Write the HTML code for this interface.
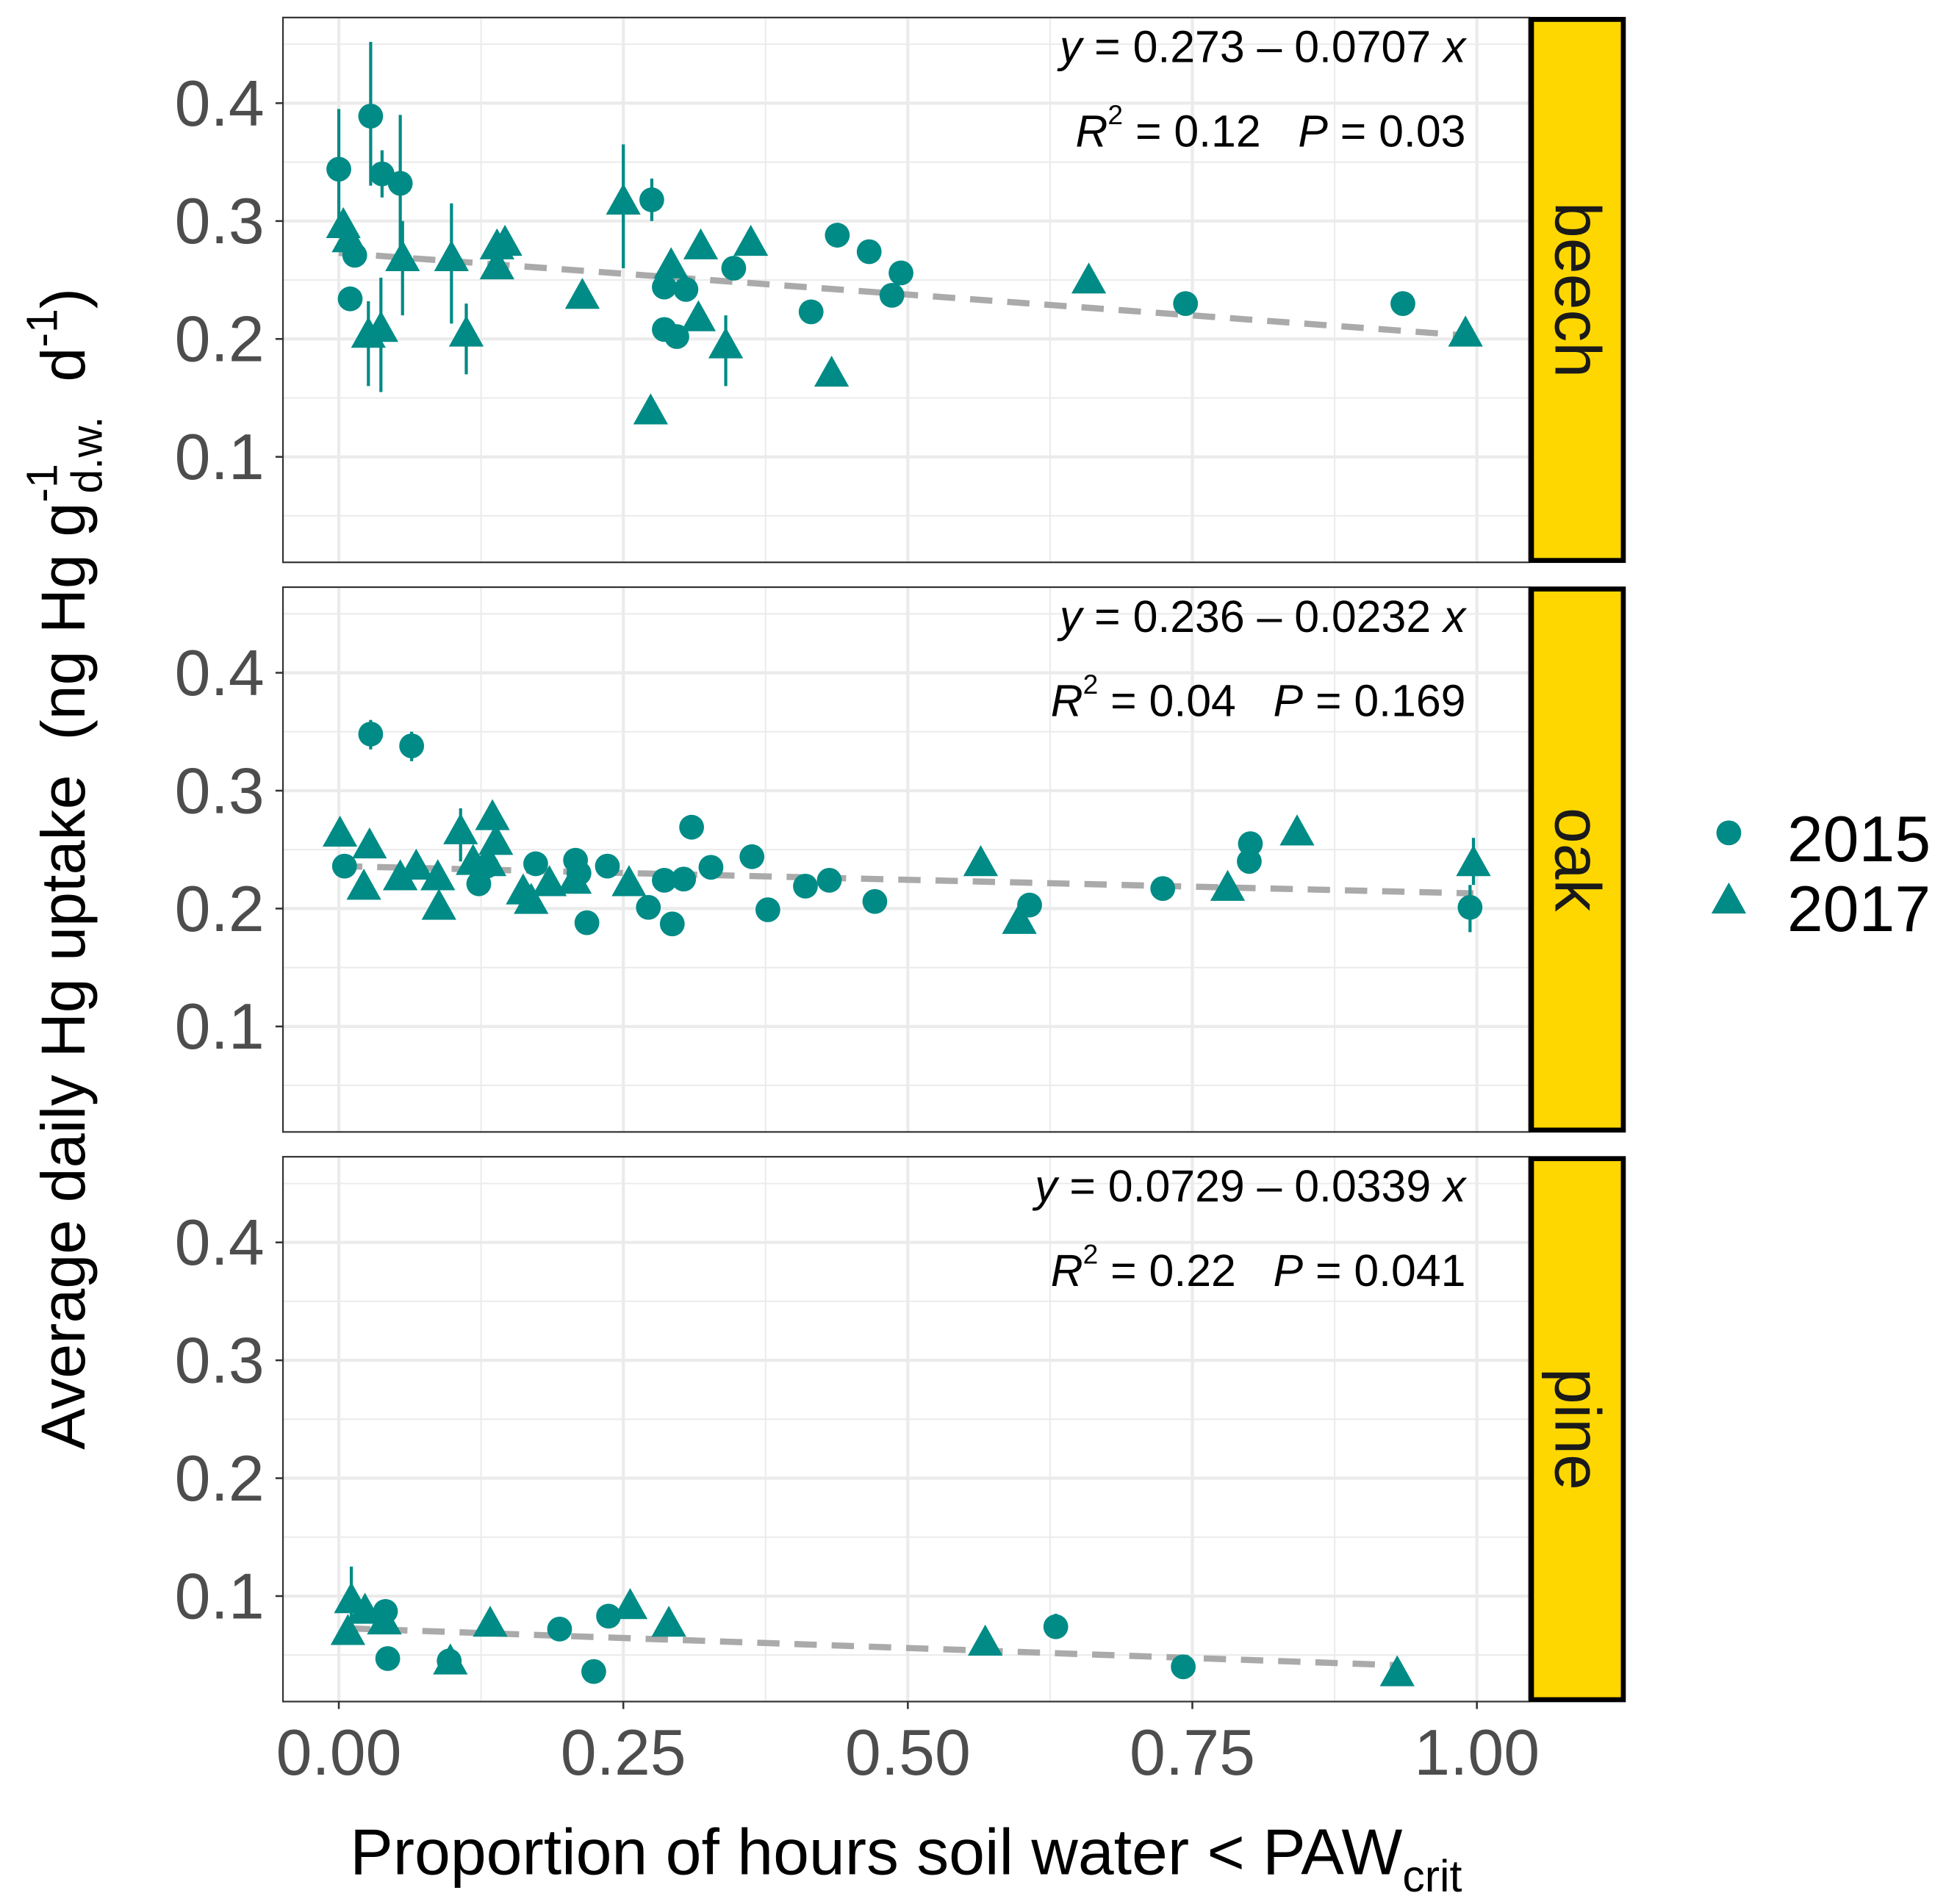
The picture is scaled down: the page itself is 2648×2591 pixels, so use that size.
<!DOCTYPE html>
<html><head><meta charset="utf-8"><style>
html,body{margin:0;padding:0;background:#fff}
svg{display:block}
text{font-family:"Liberation Sans",sans-serif}
</style></head><body>
<svg id="chart" width="2648" height="2591" viewBox="0 0 1568 1534" xmlns="http://www.w3.org/2000/svg"></svg>
<script>
const panelNames = ["beech","oak","pine"];
const eqLine1 = ["0.273 \u2013 0.0707","0.236 \u2013 0.0232","0.0729 \u2013 0.0339"];
const r2Vals = ["0.12","0.04","0.22"];
const pVals = ["0.03","0.169","0.041"];
const intercepts = [0.273,0.236,0.0729];
const slopes = [-0.0707,-0.0232,-0.0339];
const xTicks = [0,0.25,0.5,0.75,1];
const xTickLabels = ["0.00","0.25","0.50","0.75","1.00"];
const yTicks = [0.1,0.2,0.3,0.4];
const yTickLabels = ["0.1","0.2","0.3","0.4"];
// [x, y, errLow, errHigh]
const beech2015 = [[0,0.344,0.295,0.395],[0.028,0.389,0.33,0.452],[0.038,0.34,0.32,0.36],[0.054,0.332,0.26,0.39],[0.01,0.234],[0.014,0.271],[0.275,0.318,0.3,0.336],[0.286,0.244],[0.305,0.242],[0.286,0.208],[0.297,0.202],[0.347,0.26],[0.415,0.223],[0.438,0.288],[0.466,0.274],[0.494,0.256],[0.486,0.237],[0.744,0.23],[0.935,0.23]];
const beech2017 = [[0.004,0.295],[0.009,0.283],[0.026,0.202,0.16,0.232],[0.037,0.207,0.155,0.252],[0.056,0.267,0.22,0.3],[0.099,0.267,0.213,0.315],[0.112,0.203,0.17,0.23],[0.139,0.277],[0.146,0.28],[0.139,0.26],[0.214,0.235],[0.25,0.315,0.26,0.365],[0.274,0.137],[0.292,0.261],[0.318,0.277],[0.316,0.216],[0.34,0.193,0.16,0.22],[0.362,0.28],[0.433,0.169],[0.659,0.248],[0.99,0.203]];
const oak2015 = [[0.028,0.348,0.335,0.36],[0.064,0.338,0.325,0.35],[0.005,0.236],[0.123,0.221],[0.13,0.236],[0.173,0.238],[0.208,0.241],[0.211,0.23],[0.218,0.188],[0.236,0.236],[0.272,0.201],[0.286,0.224],[0.293,0.187],[0.303,0.225],[0.31,0.269],[0.327,0.235],[0.363,0.244],[0.377,0.199],[0.41,0.219],[0.431,0.224],[0.471,0.206],[0.607,0.203],[0.724,0.217],[0.8,0.24],[0.801,0.255],[0.994,0.201,0.18,0.22]];
const oak2017 = [[0.001,0.262],[0.027,0.252],[0.022,0.217],[0.054,0.225],[0.068,0.234],[0.087,0.225],[0.088,0.2],[0.107,0.264,0.24,0.285],[0.118,0.238],[0.135,0.276],[0.138,0.255],[0.132,0.237],[0.162,0.213],[0.169,0.205],[0.185,0.22],[0.207,0.222],[0.255,0.22],[0.564,0.237],[0.598,0.188],[0.781,0.216],[0.842,0.263],[0.997,0.237,0.22,0.26]];
const pine2015 = [[0.041,0.087],[0.043,0.047],[0.097,0.045],[0.194,0.072],[0.224,0.036],[0.237,0.083],[0.63,0.074,0.065,0.085],[0.742,0.04]];
const pine2017 = [[0.011,0.095,0.075,0.125],[0.008,0.068],[0.023,0.086],[0.04,0.077],[0.098,0.043],[0.133,0.075],[0.256,0.09],[0.29,0.075],[0.568,0.059],[0.93,0.033]];
const circleSets = [beech2015, oak2015, pine2015];
const triSets = [beech2017, oak2017, pine2017];

const NS = "http://www.w3.org/2000/svg";
const svg = document.getElementById("chart");
const TEAL = "#008B86";
function mk(tag, attrs, parent){const e=document.createElementNS(NS,tag);for(const k in attrs)e.setAttribute(k,attrs[k]);(parent||svg).appendChild(e);return e;}
const PL=228, PR=1232, PH=439;
const panelTops=[14,473,932];
function xs(v){return 273+917*v;}
function ysFor(p){const top=panelTops[p];return v=>top+69+(0.4-v)*950;}

for(let p=0;p<3;p++){
  const top=panelTops[p], ys=ysFor(p);
  const g=mk("g",{});
  
  
  mk("rect",{x:PL,y:top,width:PR-PL,height:PH,fill:"#fff"},g);
  [0.05,0.15,0.25,0.35,0.45].forEach(v=>mk("line",{x1:PL,x2:PR,y1:ys(v),y2:ys(v),stroke:"#ebebeb","stroke-width":1.2},g));
  [0.125,0.375,0.625,0.875].forEach(v=>mk("line",{x1:xs(v),x2:xs(v),y1:top,y2:top+PH,stroke:"#ebebeb","stroke-width":1.2},g));
  yTicks.forEach(v=>mk("line",{x1:PL,x2:PR,y1:ys(v),y2:ys(v),stroke:"#ebebeb","stroke-width":2.5},g));
  xTicks.forEach(v=>mk("line",{x1:xs(v),x2:xs(v),y1:top,y2:top+PH,stroke:"#ebebeb","stroke-width":2.5},g));
  const d=[...circleSets[p],...triSets[p]].map(a=>a[0]);
  const x0=Math.min(...d), x1=Math.max(...d);
  const rl=mk("line",{x1:xs(x0),x2:xs(x1),y1:ys(intercepts[p]+slopes[p]*x0),y2:ys(intercepts[p]+slopes[p]*x1),stroke:"#aaaaaa","stroke-width":5,"stroke-dasharray":"18 12"},g);
  
  
  [...circleSets[p],...triSets[p]].forEach(a=>{ if(a.length>2) mk("line",{x1:xs(a[0]),x2:xs(a[0]),y1:ys(a[2]),y2:ys(a[3]),stroke:TEAL,"stroke-width":2.5},g);});
  circleSets[p].forEach(a=>{
    const c=mk("circle",{cx:xs(a[0]),cy:ys(a[1]),r:10,fill:TEAL},g);
    
    
  });
  triSets[p].forEach(a=>{
    const cx=xs(a[0]), cy=ys(a[1]);
    const t=mk("polygon",{points:`${cx},${cy-16} ${cx-14},${cy+9} ${cx+14},${cy+9}`,fill:TEAL},g);
    
    
  });
  mk("rect",{x:PL,y:top,width:PR-PL,height:PH,fill:"none",stroke:"#333","stroke-width":1.3},g);
  yTicks.forEach((v,i)=>{
    mk("line",{x1:PL-6,x2:PL,y1:ys(v),y2:ys(v),stroke:"#333","stroke-width":1.5},g);
    const t=mk("text",{x:213,y:ys(v)+18,"text-anchor":"end","font-size":52,fill:"#4d4d4d"},g);
    t.textContent=yTickLabels[i];
    
    
  });
  const s=mk("rect",{x:1234,y:top+1.5,width:74,height:PH-3,fill:"#FFD700",stroke:"#000","stroke-width":4},g);
  
  
  const st=mk("text",{x:1271,y:top+PH/2,"text-anchor":"middle","dominant-baseline":"central","font-size":52,fill:"#1a1a1a",transform:`rotate(90 1271 ${top+PH/2})`},g);
  st.textContent=panelNames[p];
  
  
  const e1=mk("text",{x:1181,y:top+36,"text-anchor":"end","font-size":36,fill:"#000"},g);
  e1.innerHTML=`<tspan font-style="italic">y</tspan> = ${eqLine1[p]} <tspan font-style="italic">x</tspan>`;
  
  
  const e2=mk("text",{x:1181,y:top+104,"text-anchor":"end","font-size":36,fill:"#000"},g);
  e2.innerHTML=`<tspan font-style="italic">R</tspan><tspan font-size="22" dy="-18">2</tspan><tspan dy="18"> = ${r2Vals[p]}&#160;&#160;&#160;</tspan><tspan font-style="italic">P</tspan> = ${pVals[p]}`;
  
  
}
const ys3=panelTops[2]+PH;
xTicks.forEach((v,i)=>{
  mk("line",{x1:xs(v),x2:xs(v),y1:ys3,y2:ys3+6,stroke:"#333","stroke-width":1.5});
  const t=mk("text",{x:xs(v),y:1430,"text-anchor":"middle","font-size":52,fill:"#4d4d4d"});
  t.textContent=xTickLabels[i];
  
  
});
const xt=mk("text",{x:730,y:1510,"text-anchor":"middle","font-size":52,fill:"#000"});
xt.innerHTML='Proportion of hours soil water &lt; PAW<tspan font-size="36" dy="14">crit</tspan>';


const yt=mk("text",{x:0,y:0,"text-anchor":"middle","font-size":50,fill:"#000",transform:"translate(68 700) rotate(-90)"});
yt.innerHTML='Average daily Hg uptake&#160; (ng Hg g<tspan font-size="35" dy="-22">-1</tspan><tspan font-size="35" dx="-24" dy="36">d.w.</tspan><tspan dy="-14">&#160; d</tspan><tspan font-size="35" dy="-22">-1</tspan><tspan dy="22">)</tspan>';


const lg=mk("g",{});


mk("circle",{cx:1393,cy:671,r:10,fill:TEAL},lg);
mk("polygon",{points:"1393,711 1379,736 1407,736",fill:TEAL},lg);
const l1=mk("text",{x:1440,y:694,"font-size":52,fill:"#000"},lg); l1.textContent="2015";


const l2=mk("text",{x:1440,y:750,"font-size":52,fill:"#000"},lg); l2.textContent="2017";


</script>
</body></html>
